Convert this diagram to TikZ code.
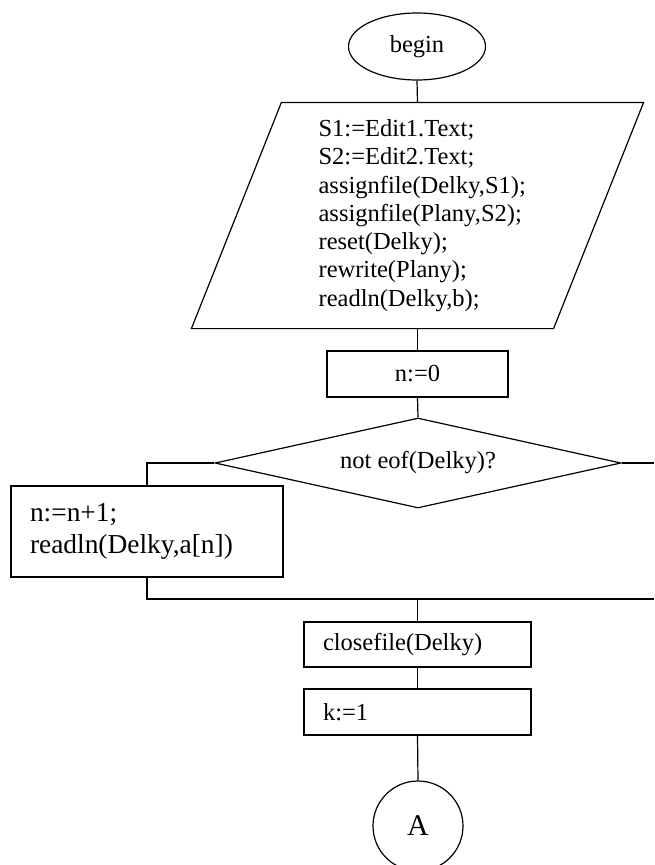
\documentclass[tikz,border=0pt]{standalone}
\usepackage{fontspec}
\setmainfont{Liberation Serif}
\usetikzlibrary{shapes.geometric,calc}
\begin{document}
\begin{tikzpicture}[x=1pt,y=-1pt,line width=1.2pt,
  every node/.style={font=\fontsize{24.5}{28.3}\selectfont},
  terminal/.style={draw,ellipse,minimum width=137pt,minimum height=67pt,inner sep=0pt},
  procbox/.style={draw,rectangle,inner sep=0pt},
  leftbox/.style={draw,rectangle,align=left,inner xsep=19pt,inner ysep=0pt},
  decision/.style={draw,diamond,aspect=4.5,minimum width=406pt,minimum height=90pt,inner sep=0pt},
  connector/.style={draw,circle,minimum size=90pt,inner sep=0pt,font=\fontsize{30}{34}\selectfont}]
  \clip (0,0) rectangle (654,865);

  % start
  \node[terminal] (begin) at (417,46.5) {begin};

  % input / output block (parallelogram outline around a frame node)
  \node[minimum width=451pt,minimum height=225pt,inner sep=0pt] (io) at (417.5,215.5) {};
  \draw ($(io.south west)$) -- ($(io.north west)+(90,0)$) -- (io.north east)
        -- ($(io.south east)-(90,0)$) -- cycle;
  \node[anchor=west,align=left,inner sep=0pt] (iotext) at (318,215.5)
    {S1:=Edit1.Text;\\S2:=Edit2.Text;\\assignfile(Delky,S1);\\assignfile(Plany,S2);\\reset(Delky);\\rewrite(Plany);\\readln(Delky,b);};

  \node[procbox,minimum width=181pt,minimum height=46pt] (n0) at (417.5,374) {n:=0};

  % loop condition
  \node[decision] (cond) at (418,463) {not eof(Delky)?};

  % loop body
  \node[leftbox,text width=234pt,minimum height=91pt,font=\fontsize{27.4}{31.7}\selectfont]
    (body) at (147,531.5) {n:=n+1;\\readln(Delky,a[n])};

  \node[leftbox,text width=189pt,minimum height=45pt] (close) at (417.5,644.5) {closefile(Delky)};
  \node[leftbox,text width=189pt,minimum height=46pt] (k1) at (417.5,712) {k:=1};

  \node[connector] (A) at (418,826) {A};

  % connectors
  \coordinate (loopR) at (654,463);
  \coordinate (loopB) at (654,599);
  \coordinate (merge) at (417.5,599);

  \draw (begin.south) -- (io.north);
  \draw (io.south) -- (n0.north);
  \draw (n0.south) -- (cond.north);
  \draw (cond.west) -| (body.north);
  \draw (cond.east) -- (loopR);
  \draw (body.south) |- (loopB);
  \draw (merge) -- (close.north);
  \draw (close.south) -- (k1.north);
  \draw (k1.south) -- (A.north);
\end{tikzpicture}
\end{document}
